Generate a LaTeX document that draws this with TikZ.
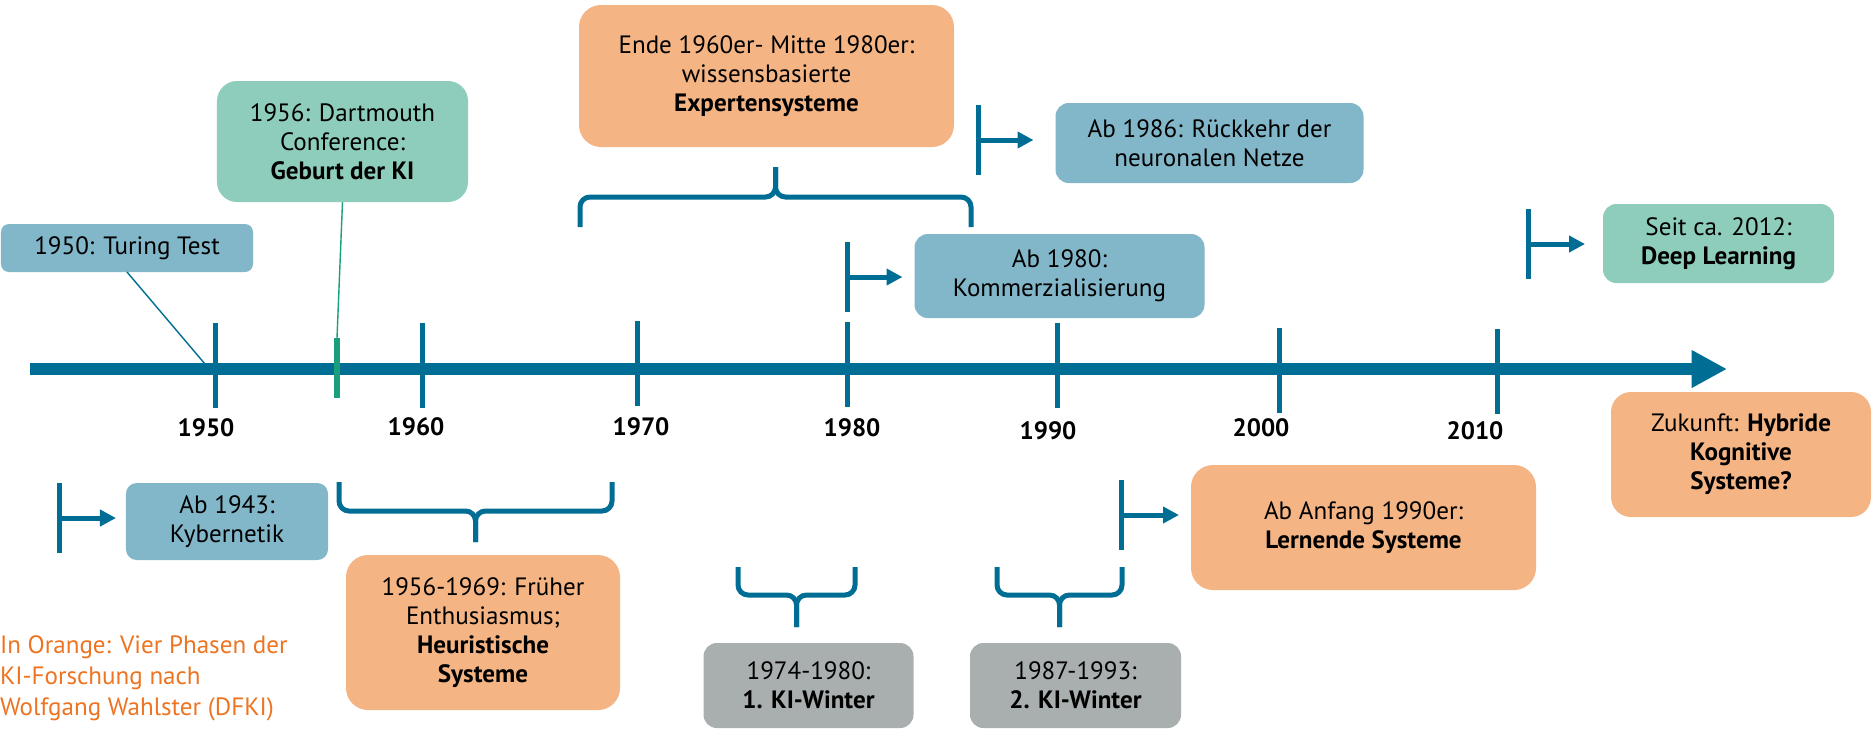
\documentclass[tikz,border=0pt]{standalone}
\usepackage{fontspec}
\setmainfont{PT Sans}
\usetikzlibrary{arrows.meta}
\definecolor{tlblue}{HTML}{006E94}
\definecolor{boxblue}{HTML}{82B7C9}
\definecolor{boxgreen}{HTML}{8ECDBB}
\definecolor{boxorange}{HTML}{F4B484}
\definecolor{boxgray}{HTML}{A9AFAE}
\definecolor{kigreen}{HTML}{1A9F7C}
\definecolor{noteorange}{HTML}{EC7422}
\begin{document}
\begin{tikzpicture}[x=0.015cm,y=-0.015cm,inner sep=0pt,outer sep=0pt,
font=\fontsize{10.7}{12.4}\selectfont,
tlbox/.style={rectangle,align=center,rounded corners=0.2cm},
bluebox/.style={tlbox,fill=boxblue},
greenbox/.style={tlbox,fill=boxgreen},
orangebox/.style={tlbox,fill=boxorange,rounded corners=0.33cm},
graybox/.style={tlbox,fill=boxgray},
axisline/.style={line width=0.18cm,tlblue,-{Triangle[length=0.53cm,width=0.53cm]}},
yeartick/.style={line width=0.075cm,tlblue},
yearlabel/.style={font=\fontsize{10.7}{12.4}\selectfont\bfseries},
markbar/.style={line width=0.075cm,tlblue},
markarrow/.style={line width=0.075cm,tlblue,-{Triangle[length=0.24cm,width=0.24cm]},shorten >=0.18cm},
spanbrace/.style={line width=0.075cm,tlblue,rounded corners=0.15cm},
pinline/.style={line width=0.6pt}]
\useasboundingbox (0,0) rectangle (1872,729);

% time axis
\coordinate (axisstart) at (30,369);
\coordinate (axisend) at (1727,369);
\draw[axisline] (axisstart) -- (axisend);
\foreach \yr/\x/\yt/\yb/\lx/\ly in {1950/215/323/408/206/428,1960/422/323/408/416/427,
  1970/637/321/406/641/427,1980/847/322/407/852/428,1990/1057/323/408/1048/431,
  2000/1279/328/413/1261/428,2010/1497/329/414/1475/431}
{
  \draw[yeartick] (\x,\yt) -- (\x,\yb);
  \draw (\lx,\ly) node[yearlabel] (y\yr) {\yr};
}
\coordinate (gtop) at (337,338);
\coordinate (c1950) at (205,364);
\draw[line width=0.09cm,kigreen] (gtop) -- (337,398);

% boxes above the axis
\draw (127,248) node[bluebox,rounded corners=0.12cm,minimum width=3.78cm,minimum height=0.72cm] (turing) {1950: Turing Test};
\draw (342.5,141.5) node[greenbox,rounded corners=0.3cm,minimum width=3.765cm,minimum height=1.815cm] (dart) {1956: Dartmouth\\Conference:\\\textbf{Geburt der KI}};
\draw (766.5,76) node[orangebox,minimum width=5.625cm,minimum height=2.13cm] (expert) {Ende 1960er- Mitte 1980er:\\wissensbasierte\\\textbf{Expertensysteme}};
\draw (1209.5,143) node[bluebox,minimum width=4.62cm,minimum height=1.2cm] (rueck) {Ab 1986: Rückkehr der\\neuronalen Netze};
\draw (1059.5,276) node[bluebox,minimum width=4.35cm,minimum height=1.26cm] (kommerz) {Ab 1980:\\Kommerzialisierung};
\draw (1718.5,243.5) node[greenbox,minimum width=3.465cm,minimum height=1.185cm] (deep) {Seit ca. 2012:\\\textbf{Deep Learning}};

% boxes below the axis
\draw (1741,454.5) node[orangebox,rounded corners=0.3cm,minimum width=3.9cm,minimum height=1.875cm] (zukunft) {Zukunft: \textbf{Hybride}\\\textbf{Kognitive}\\\textbf{Systeme?}};
\draw (227,521.5) node[bluebox,rounded corners=0.16cm,minimum width=3.03cm,minimum height=1.155cm] (kyber) {Ab 1943:\\Kybernetik};
\draw (483,632.5) node[orangebox,minimum width=4.11cm,minimum height=2.325cm] (heur) {1956-1969: Früher\\Enthusiasmus;\\\textbf{Heuristische}\\\textbf{Systeme}};
\draw (1363.5,527.5) node[orangebox,minimum width=5.175cm,minimum height=1.875cm] (lern) {Ab Anfang 1990er:\\\textbf{Lernende Systeme}};
\draw (808.5,685.5) node[graybox,minimum width=3.15cm,minimum height=1.275cm] (winter1) {1974-1980:\\\textbf{1. KI-Winter}};
\draw (1075.5,685.5) node[graybox,minimum width=3.165cm,minimum height=1.275cm] (winter2) {1987-1993:\\\textbf{2. KI-Winter}};
\draw (0,678) node[anchor=west,align=left,text=noteorange,font=\fontsize{10.7}{13.2}\selectfont] (note) {In Orange: Vier Phasen der\\KI-Forschung nach\\Wolfgang Wahlster (DFKI)};

% pins to the axis
\draw[pinline,tlblue] (turing.south) -- (c1950);
\draw[pinline,kigreen] (dart.south) -- (gtop);

% start markers
\foreach \m/\x/\y in {m1943/59/518,m1980/847/277,m1986/978/140,m1990/1121/515,m2012/1528/244}
{
  \coordinate (\m) at (\x,\y);
  \draw[markbar] (\m) ++(0,-35) -- ++(0,70);
}
\draw[markarrow,shorten >=0.15cm] (m1943) -- (m1943 -| kyber.west);
\draw[markarrow] (m1980) -- (m1980 -| kommerz.west);
\draw[markarrow,shorten >=0.33cm] (m1986) -- (m1986 -| rueck.west);
\draw[markarrow] (m1990) -- (m1990 -| lern.west);
\draw[markarrow,shorten >=0.27cm] (m2012) -- (m2012 -| deep.west);

% braces
\foreach \l/\r/\e/\h/\t in {580/971/227/197/167,339/612/482/511/542,738/855/567/595/627,997/1122/567/595/627}
{
  \draw[spanbrace] (\l,\e) |- ({(\l+\r)/2},\h) -- ({(\l+\r)/2},\t);
  \draw[spanbrace] (\r,\e) |- ({(\l+\r)/2},\h) -- ({(\l+\r)/2},\t);
}
\end{tikzpicture}
\end{document}
